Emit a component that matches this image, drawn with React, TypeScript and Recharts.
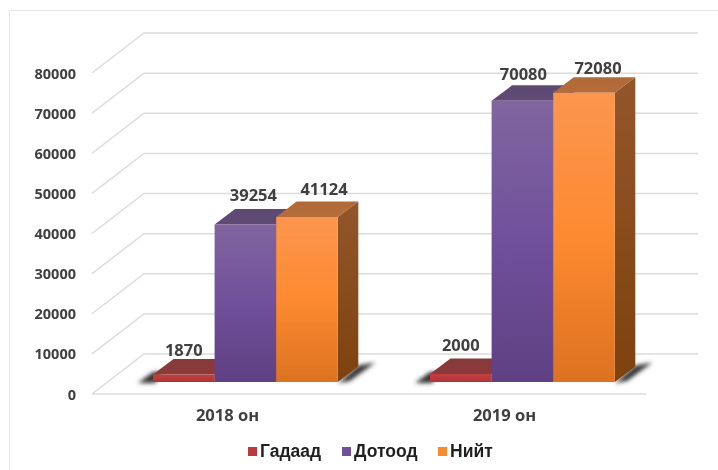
import { BarChart, Bar, XAxis, YAxis, CartesianGrid, LabelList, Legend } from 'recharts';

const categories = ['2018 он', '2019 он'];
const gadaad = [1870, 2000];
const dotood = [39254, 70080];
const niit = [41124, 72080];
const yTicks = [0, 10000, 20000, 30000, 40000, 50000, 60000, 70000, 80000];

const data = categories.map((name, i) => ({
  name,
  gadaad: gadaad[i],
  dotood: dotood[i],
  niit: niit[i],
}));

const FONT = '"Open Sans", sans-serif';
const TEXT = '#404040';
const GRID = '#dcdcdc';

// bar depth
const DX = 20.5;
const DY = 15.5;

// hand placed data labels, per category
const labelNudge = {
  gadaad: [[0, -25], [0, -29]],
  dotood: [[8, -30], [1, -27]],
  niit: [[17, -28], [14, -25]],
};

const legendItems = [
  { label: 'Гадаад', color: '#b93a3a', width: 94 },
  { label: 'Дотоод', color: '#70509c', width: 96 },
  { label: 'Нийт', color: '#f98a2e', width: 60 },
];

function gridLine(props: any) {
  const { y1, key } = props;
  const isFloor = Math.abs(y1 - 382) < 1;
  return (
    <g key={key}>
      <polyline
        points={`92,${y1 + 12} 144,${y1 - 28} 698,${y1 - 28}`}
        fill="none"
        stroke={GRID}
        strokeWidth={1.5}
      />
      {isFloor && <line x1={92} x2={646} y1={y1 + 12} y2={y1 + 12} stroke={GRID} strokeWidth={1.5} />}
    </g>
  );
}

function box(id: string, shadow?: 'left' | 'right') {
  return (props: any) => {
    const { x, y, width, height } = props;
    const r = x + width;
    const b = y + height;
    return (
      <g>
        {shadow === 'right' && (
          <polygon
            points={`${r},${b + 1} ${r + DX},${b - DY - 1} ${r + DX + 17},${b - DY - 4} ${r + 12},${b - 1}`}
            fill="#333333"
            filter="url(#soft)"
          />
        )}
        {shadow === 'left' && (
          <polygon
            points={`${x - 15},${b + 1} ${x + 2},${b + 1} ${x + 10},${b - 10} ${x},${b - 10}`}
            fill="#333333"
            filter="url(#soft)"
          />
        )}
        <polygon
          points={`${x},${y} ${x + DX},${y - DY} ${r + DX},${y - DY} ${r},${y}`}
          fill={`url(#${id}Top)`}
        />
        <polygon
          points={`${r},${y} ${r + DX},${y - DY} ${r + DX},${b - DY} ${r},${b}`}
          fill={`url(#${id}Side)`}
        />
        <rect x={x} y={y} width={width} height={height} fill={`url(#${id}Front)`} />
      </g>
    );
  };
}

function dataLabel(series: keyof typeof labelNudge) {
  return (props: any) => {
    const { x, y, width, value, index } = props;
    const [dx, dy] = labelNudge[series][index];
    return (
      <text
        x={x + width / 2 + dx}
        y={y + dy}
        textAnchor="middle"
        dominantBaseline="central"
        fontFamily={FONT}
        fontWeight={700}
        fontSize={16.5}
        fill={TEXT}
      >
        {value}
      </text>
    );
  };
}

function YTick({ y, payload }: any) {
  return (
    <text x={76} y={y + 12} textAnchor="end" dominantBaseline="central" fontFamily={FONT} fontWeight={700} fontSize={14.5} fill={TEXT}>
      {payload.value}
    </text>
  );
}

function XTick({ x, payload }: any) {
  return (
    <text x={x - 18} y={414} textAnchor="middle" dominantBaseline="central" fontFamily={FONT} fontWeight={700} fontSize={16.5} fill={TEXT}>
      {payload.value}
    </text>
  );
}

function LegendBox() {
  return (
    <div style={{ display: 'flex', alignItems: 'center', height: 20 }}>
      {legendItems.map((it) => (
        <div key={it.label} style={{ display: 'flex', alignItems: 'center', width: it.width }}>
          <span style={{ width: 9, height: 9, background: it.color, marginRight: 3 }} />
          <span style={{ fontFamily: '"Liberation Sans", sans-serif', fontWeight: 700, fontSize: 17.5, color: '#1f1f1f' }}>
            {it.label}
          </span>
        </div>
      ))}
    </div>
  );
}

function gradient(id: string, stops: string[]) {
  return (
    <linearGradient id={id} x1="0" y1="0" x2="0" y2="1">
      {stops.map((c, i) => (
        <stop key={i} offset={i / (stops.length - 1)} stopColor={c} />
      ))}
    </linearGradient>
  );
}

export default function App() {
  return (
    <div
      style={{
        position: 'absolute',
        left: 0,
        top: 0,
        width: 718,
        height: 470,
        overflow: 'hidden',
        background: '#fff',
        filter: 'blur(0.6px)',
      }}
    >
      <div style={{ position: 'absolute', left: 9, top: 10, right: -4, bottom: -4, border: '1.5px solid #e6e6e6' }} />
      <BarChart
        width={718}
        height={470}
        data={data}
        barSize={61.6}
        barGap={0}
        margin={{ top: 61, right: 57, bottom: 58, left: 47 }}
        style={{ position: 'absolute', left: 0, top: 0 }}
      >
        <defs>
          {gradient('redFront', ['#c04040', '#b23434'])}
          {gradient('redTop', ['#873a3a', '#8c3a3a'])}
          {gradient('redSide', ['#7a2a2a', '#7a2a2a'])}
          {gradient('purpleFront', ['#80659f', '#70509b', '#5f4083'])}
          {gradient('purpleTop', ['#5d4a73', '#5f4a75'])}
          {gradient('purpleSide', ['#4f3a6a', '#4a3560'])}
          {gradient('orangeFront', ['#fb964f', '#fd8a30', '#dc7220'])}
          {gradient('orangeTop', ['#b06a38', '#b46c3a'])}
          {gradient('orangeSide', ['#93562b', '#7d420e'])}
          <filter id="soft" x="-100%" y="-100%" width="300%" height="300%">
            <feGaussianBlur stdDeviation="2.2" />
          </filter>
        </defs>
        <CartesianGrid horizontal={gridLine} vertical={false} />
        <XAxis dataKey="name" axisLine={false} tickLine={false} height={30} tick={XTick} />
        <YAxis
          domain={[0, 80000]}
          ticks={yTicks}
          width={60}
          axisLine={false}
          tickLine={false}
          tick={YTick}
          interval={0}
        />
        <Bar dataKey="gadaad" isAnimationActive={false} shape={box('red', 'left')}>
          <LabelList dataKey="gadaad" content={dataLabel('gadaad')} />
        </Bar>
        <Bar dataKey="dotood" isAnimationActive={false} shape={box('purple')}>
          <LabelList dataKey="dotood" content={dataLabel('dotood')} />
        </Bar>
        <Bar dataKey="niit" isAnimationActive={false} shape={box('orange', 'right')}>
          <LabelList dataKey="niit" content={dataLabel('niit')} />
        </Bar>
        <Legend
          layout="horizontal"
          verticalAlign="middle"
          content={LegendBox}
          wrapperStyle={{ left: 248, top: 441, width: 260, height: 20 }}
        />
      </BarChart>
    </div>
  );
}
